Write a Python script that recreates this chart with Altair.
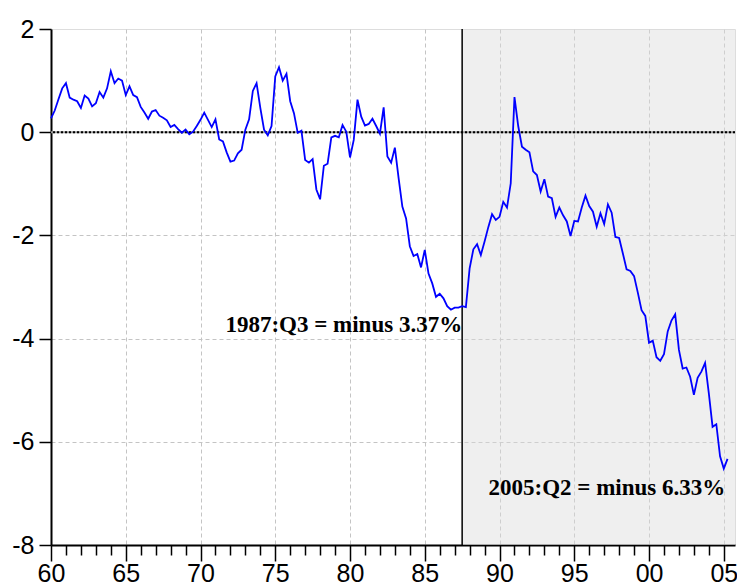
import altair as alt
import pandas as pd

# US current account balance, % of GDP, quarterly 1960:Q1 - 2005:Q2
start_year = 1960
values = [
    0.27, 0.42, 0.64, 0.85,     # 1960
    0.95, 0.67, 0.63, 0.60,     # 1961
    0.47, 0.71, 0.65, 0.50,     # 1962
    0.56, 0.78, 0.67, 0.85,     # 1963
    1.18, 0.95, 1.04, 1.00,     # 1964
    0.72, 0.89, 0.72, 0.68,     # 1965
    0.49, 0.38, 0.26, 0.40,     # 1966
    0.43, 0.32, 0.28, 0.23,     # 1967
    0.10, 0.14, 0.06, -0.01,    # 1968
    0.05, -0.04, 0.01, 0.12,    # 1969
    0.24, 0.38, 0.24, 0.10,     # 1970
    0.25, -0.14, -0.18, -0.39,  # 1971
    -0.57, -0.55, -0.41, -0.34, # 1972
    0.05, 0.25, 0.80, 0.95,     # 1973
    0.47, 0.05, -0.06, 0.12,    # 1974
    1.08, 1.26, 1.00, 1.13,     # 1975
    0.60, 0.37, -0.01, 0.03,    # 1976
    -0.54, -0.59, -0.52, -1.11, # 1977
    -1.30, -0.65, -0.61, -0.10, # 1978
    -0.07, -0.10, 0.14, 0.01,   # 1979
    -0.49, -0.15, 0.63, 0.30,   # 1980
    0.13, 0.16, 0.26, 0.12,     # 1981
    -0.03, 0.48, -0.47, -0.59,  # 1982
    -0.30, -0.89, -1.44, -1.67, # 1983
    -2.21, -2.40, -2.36, -2.62, # 1984
    -2.28, -2.74, -2.93, -3.19, # 1985
    -3.13, -3.22, -3.37, -3.44, # 1986
    -3.40, -3.40, -3.37, -3.39, # 1987
    -2.64, -2.27, -2.17, -2.38, # 1988
    -2.12, -1.84, -1.59, -1.70, # 1989
    -1.64, -1.35, -1.46, -0.99, # 1990
    0.68, 0.12, -0.28, -0.34,   # 1991
    -0.39, -0.76, -0.83, -1.15, # 1992
    -0.91, -1.25, -1.28, -1.64, # 1993
    -1.46, -1.61, -1.73, -2.01, # 1994
    -1.72, -1.73, -1.46, -1.23, # 1995
    -1.43, -1.54, -1.83, -1.57, # 1996
    -1.78, -1.40, -1.56, -2.03, # 1997
    -2.05, -2.35, -2.66, -2.69, # 1998
    -2.79, -3.11, -3.45, -3.56, # 1999
    -4.08, -4.04, -4.36, -4.43, # 2000
    -4.30, -3.86, -3.65, -3.53, # 2001
    -4.22, -4.58, -4.56, -4.74, # 2002
    -5.09, -4.76, -4.64, -4.47, # 2003
    -5.06, -5.71, -5.66, -6.28, # 2004
    -6.52, -6.33,               # 2005
]

x_domain = [1960, 2005.75]
y_domain = [-8, 2]
year_ticks = list(range(1960, 2006))
y_ticks = [-8, -6, -4, -2, 0, 2]

shade_start = [1987.5]
shade_end = [2005.75]

ann_text = ["1987:Q3 = minus 3.37%", "2005:Q2 = minus 6.33%"]
ann_x = [1987.5, 2005.1]
ann_y = [-3.88, -7.04]
ann_dx = [-4, 0]

period = [f"{start_year + i // 4}:Q{i % 4 + 1}" for i in range(len(values))]
t = [start_year + (i // 4) + (i % 4) / 4 for i in range(len(values))]
df = pd.DataFrame({"t": t, "v": values, "period": period})

shade_df = pd.DataFrame({"x1": shade_start, "x2": shade_end, "y1": [y_domain[0]], "y2": [y_domain[1]], "z": [0]})
ann_df = pd.DataFrame({"text": ann_text, "x": ann_x, "y": ann_y, "dx": ann_dx})

xs = alt.Scale(domain=x_domain, nice=False, zero=False)
ys = alt.Scale(domain=y_domain, nice=False, zero=False)

x_axis = alt.Axis(
    values=year_ticks, format="d",
    labelExpr="datum.value % 5 === 0 ? slice(datum.label, -2) : ''",
    tickSize={"condition": {"test": "datum.value % 5 === 0", "value": 16}, "value": 10},
    grid=True, gridColor="#c4c4c4", gridDash=[4, 3], gridWidth=1,
    gridOpacity={"condition": {"test": "datum.value % 5 === 0 && datum.value > 1960", "value": 1}, "value": 0},
    domainColor="black", domainWidth=2, tickColor="black", tickWidth=1.5,
    labelFont="Liberation Sans", labelFontSize=25, labelColor="black",
    labelPadding=0, labelOverlap=False, labelFlush=False, labelBound=False, title=None,
)
y_axis = alt.Axis(
    values=y_ticks, labelExpr="'' + datum.value",
    tickSize=12, grid=True, gridColor="#c4c4c4", gridDash=[4, 3], gridWidth=1,
    gridOpacity={"condition": {"test": "datum.value === 0 || datum.value === 2 || datum.value === -8", "value": 0}, "value": 1},
    domainColor="black", domainWidth=2, tickColor="black", tickWidth=1.5,
    labelFont="Liberation Sans", labelFontSize=25, labelColor="black",
    labelPadding=5, labelOverlap=False, labelFlush=False, labelBound=False, title=None,
)

shade = alt.Chart(shade_df).mark_rect(color="#dcdcdc", opacity=0.45).encode(
    x=alt.X("x1:Q", scale=xs, axis=x_axis), x2="x2:Q",
    y=alt.Y("y1:Q", scale=ys, axis=y_axis), y2="y2:Q",
)

zero_bg = alt.Chart(shade_df).mark_rule(color="#9a9a9a", strokeWidth=2).encode(
    y=alt.Y("z:Q", scale=ys, axis=y_axis)
)
zero_dot = alt.Chart(shade_df).mark_rule(color="black", strokeWidth=2, strokeDash=[2, 2]).encode(
    y=alt.Y("z:Q", scale=ys, axis=y_axis)
)

vline = alt.Chart(shade_df).mark_rule(color="black", strokeWidth=1.5).encode(
    x=alt.X("x1:Q", scale=xs, axis=x_axis)
)

line = alt.Chart(df).mark_line(color="#0000ff", strokeWidth=1.8).encode(
    x=alt.X("t:Q", scale=xs, axis=x_axis),
    y=alt.Y("v:Q", scale=ys, axis=y_axis),
)

text = alt.Chart(ann_df).mark_text(
    align="right", baseline="alphabetic", font="Liberation Serif",
    fontWeight="bold", fontSize=23, color="black",
).encode(
    x=alt.X("x:Q", scale=xs, axis=x_axis), y=alt.Y("y:Q", scale=ys, axis=y_axis), text="text:N",
    xOffset=alt.XOffset("dx:Q", scale=None),
)

chart = alt.layer(shade, zero_bg, zero_dot, vline, line, text).properties(
    width=684, height=516,
    autosize=alt.AutoSizeParams(type="none"),
    padding={"left": 43, "top": 21, "right": 2, "bottom": 43},
).configure_view(stroke="black", strokeWidth=2).configure(background="white")

chart.save("out.html", embed_options={"renderer": "svg", "actions": False})
